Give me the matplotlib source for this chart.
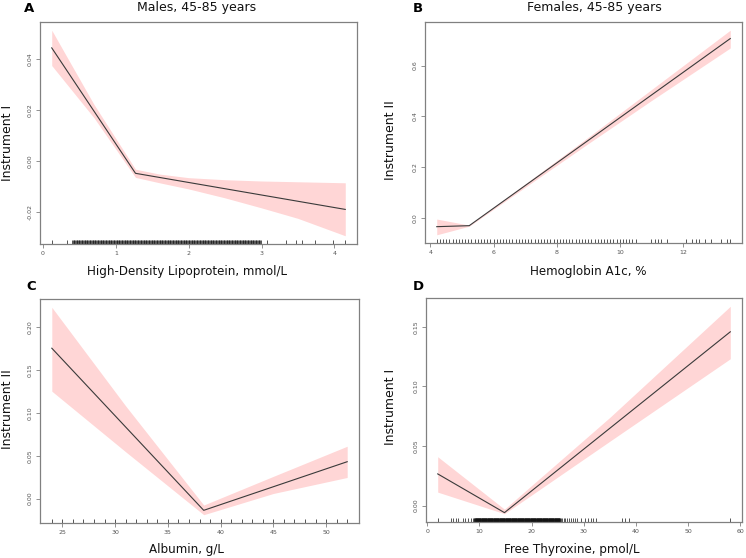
import numpy as np
import matplotlib.pyplot as plt
from matplotlib.transforms import blended_transform_factory

# ---- panel A: HDL, males
a_x = [0.12, 1.27, 4.15]
a_y = [0.0443, -0.0047, -0.0188]
a_bx = [0.12, 0.70, 1.27, 1.60, 2.00, 2.50, 3.00, 3.50, 4.15]
a_hi = [0.0512, 0.0222, -0.0031, -0.0050, -0.0064, -0.0072, -0.0077, -0.0080, -0.0084]
a_lo = [0.0374, 0.0170, -0.0063, -0.0084, -0.0108, -0.0143, -0.0182, -0.0223, -0.0291]
a_rug = [0.12, 0.33] + list(np.round(np.arange(0.40, 3.00, 0.01), 2)) + \
        [3.07, 3.34, 3.48, 3.55, 3.73, 3.98, 4.14]

# ---- panel B: HbA1c, females
b_x = [4.2, 5.23, 13.5]
b_y = [-0.034, -0.030, 0.706]
b_bx = [4.2, 5.23, 7.0, 9.0, 11.0, 13.5]
b_hi = [-0.004, -0.028, 0.134, 0.318, 0.505, 0.739]
b_lo = [-0.066, -0.032, 0.121, 0.293, 0.462, 0.669]
b_rug = list(np.round(np.arange(4.2, 10.6, 0.1), 1)) + \
        [11.0, 11.1, 11.2, 11.3, 11.5, 12.1, 12.3, 12.4, 12.5, 12.7, 12.9, 13.2, 13.4, 13.5]

# ---- panel C: albumin
c_x = [24, 38.4, 52]
c_y = [0.1757, -0.0137, 0.0431]
c_bx = [24, 31, 38.4, 45, 52]
c_hi = [0.2235, 0.1083, -0.0075, 0.026, 0.0612]
c_lo = [0.1255, 0.0547, -0.0188, 0.006, 0.0247]
c_rug = list(range(24, 53))

# ---- panel D: free thyroxine
d_x = [2.0, 14.8, 58.1]
d_y = [0.0266, -0.0059, 0.1458]
d_bx = [2.0, 14.8, 35.0, 58.1]
d_hi = [0.041, -0.003, 0.074, 0.1672]
d_lo = [0.0113, -0.0068, 0.054, 0.1232]
d_rug = [2.1, 4.6, 5.0, 5.5, 5.9, 6.9, 7.3, 7.8, 8.3, 8.7] + \
        list(np.round(np.arange(9.0, 25.5, 0.05), 2)) + \
        [25.6, 25.9, 26.2, 26.5, 26.8, 27.1, 27.5, 27.9, 28.3, 28.8, 29.4, 30.2,
         30.9, 31.3, 31.8, 32.3, 37.4, 38.0, 38.7, 58.0]

panels = [
    dict(pos=[40, 22, 357, 244], x=a_x, y=a_y, bx=a_bx, hi=a_hi, lo=a_lo, rug=a_rug,
         xt=[0, 1, 2, 3, 4], xtl=["0", "1", "2", "3", "4"],
         yt=[-0.02, 0.0, 0.02, 0.04], ytl=["-0.02", "0.00", "0.02", "0.04"]),
    dict(pos=[425, 22, 742, 243], x=b_x, y=b_y, bx=b_bx, hi=b_hi, lo=b_lo, rug=b_rug,
         xt=[4, 6, 8, 10, 12], xtl=["4", "6", "8", "10", "12"],
         yt=[0.0, 0.2, 0.4, 0.6], ytl=["0.0", "0.2", "0.4", "0.6"]),
    dict(pos=[40, 299, 359, 523], x=c_x, y=c_y, bx=c_bx, hi=c_hi, lo=c_lo, rug=c_rug,
         xt=[25, 30, 35, 40, 45, 50], xtl=["25", "30", "35", "40", "45", "50"],
         yt=[0.0, 0.05, 0.10, 0.15, 0.20], ytl=["0.00", "0.05", "0.10", "0.15", "0.20"]),
    dict(pos=[426, 298, 742, 522], x=d_x, y=d_y, bx=d_bx, hi=d_hi, lo=d_lo, rug=d_rug,
         xt=[0, 10, 20, 30, 40, 50, 60], xtl=["0", "10", "20", "30", "40", "50", "60"],
         yt=[0.0, 0.05, 0.10, 0.15], ytl=["0.00", "0.05", "0.10", "0.15"]),
]

W, H = 746, 558
fig = plt.figure(figsize=(W / 100, H / 100), dpi=100)
frame = "#808080"

for p in panels:
    l, t, r, b = p["pos"]
    ax = fig.add_axes([l / W, (H - b) / H, (r - l) / W, (b - t) / H])
    ax.fill_between(p["bx"], p["lo"], p["hi"], color="#ffd6d6", lw=0)
    ax.plot(p["x"], p["y"], color="#3a3a3a", lw=0.8)
    tr = blended_transform_factory(ax.transData, ax.transAxes)
    ax.vlines(p["rug"], 0, 0.018, transform=tr, color="#111111", lw=0.5)
    xr = max(p["bx"]) - min(p["bx"])
    ax.set_xlim(min(p["bx"]) - 0.04 * xr, max(p["bx"]) + 0.04 * xr)
    yr = max(p["hi"]) - min(p["lo"])
    ax.set_ylim(min(p["lo"]) - 0.04 * yr, max(p["hi"]) + 0.04 * yr)
    ax.set_xticks(p["xt"], p["xtl"])
    ax.set_yticks(p["yt"], p["ytl"])
    for lab in ax.get_yticklabels():
        lab.set_rotation(90)
        lab.set_va("center")
    ax.tick_params(length=3, width=0.6, color=frame, labelsize=4.5,
                   labelcolor="#555555", pad=2)
    for s in ax.spines.values():
        s.set_color(frame)
        s.set_linewidth(0.9)

txt = dict(fontsize=9, color="#111111", ha="center", va="center")
lab = dict(fontsize=8.6, color="#111111", ha="center", va="center")
fig.text(197 / W, 1 - 8 / H, "Males, 45-85 years", **txt)
fig.text(594 / W, 1 - 8 / H, "Females, 45-85 years", **txt)
fig.text(187 / W, 1 - 271 / H, "High-Density Lipoprotein, mmol/L", **lab)
fig.text(588 / W, 1 - 271 / H, "Hemoglobin A1c, %", **lab)
fig.text(186 / W, 1 - 550 / H, "Albumin, g/L", **lab)
fig.text(572 / W, 1 - 550 / H, "Free Thyroxine, pmol/L", **lab)
fig.text(8 / W, 1 - 143 / H, "Instrument I", rotation=90, **txt)
fig.text(390 / W, 1 - 140 / H, "Instrument II", rotation=90, **txt)
fig.text(8 / W, 1 - 409 / H, "Instrument II", rotation=90, **txt)
fig.text(390 / W, 1 - 407 / H, "Instrument I", rotation=90, **txt)

let = dict(fontsize=9.5, fontweight="bold", color="black", ha="center", va="center")
fig.text(29 / W, 1 - 8 / H, "A", **let)
fig.text(418 / W, 1 - 8 / H, "B", **let)
fig.text(31 / W, 1 - 287 / H, "C", **let)
fig.text(418 / W, 1 - 287 / H, "D", **let)

fig.savefig("out.png", dpi=100)
